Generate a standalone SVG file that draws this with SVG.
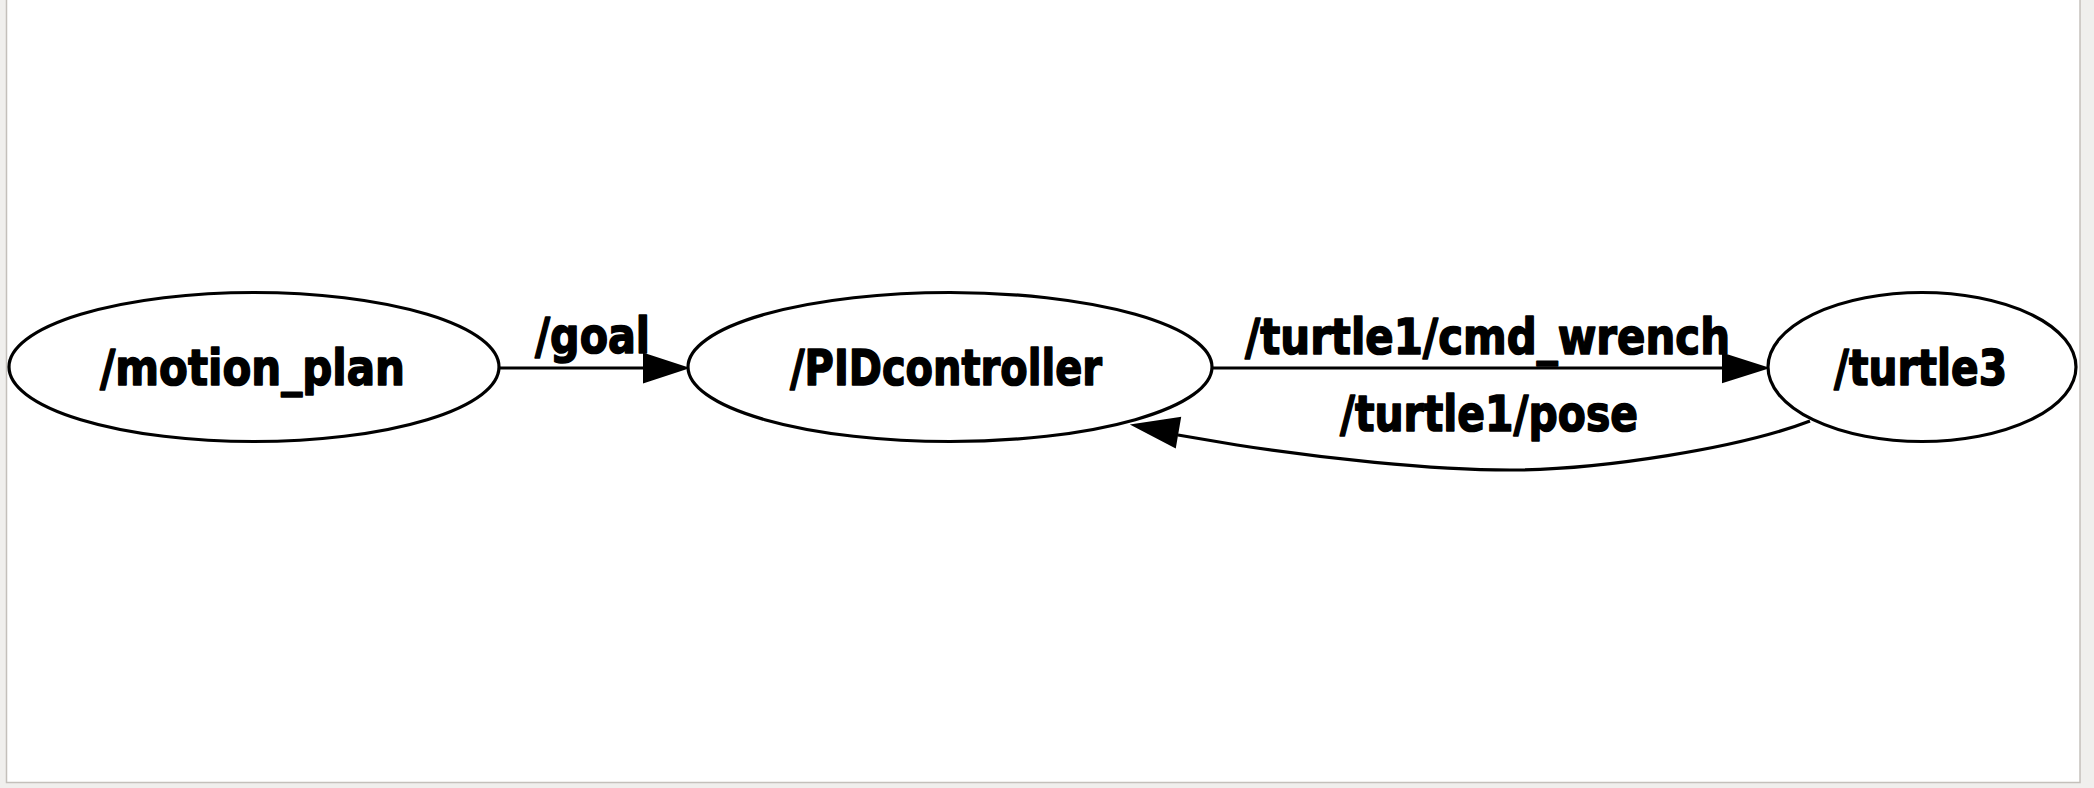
<svg xmlns="http://www.w3.org/2000/svg" width="2094" height="788" viewBox="0 0 2094 788">
<style>
.node ellipse{fill:#ffffff;stroke:#000000;stroke-width:3.2}
.lbl{font-family:"DejaVu Sans","Liberation Sans",sans-serif;font-weight:bold;font-size:49px;fill:#000000;stroke:#000000;stroke-width:1.6;stroke-linejoin:round}
.edge path,.edge line{fill:none;stroke:#000000;stroke-width:3.2}
.edge polygon{fill:#000000;stroke:#000000;stroke-width:2;stroke-linejoin:miter}
</style>
<rect x="0" y="0" width="2094" height="788" fill="#f0efed"/>
<rect x="6.5" y="-2" width="2073.5" height="784.5" fill="#ffffff" stroke="#c4c0bb" stroke-width="1.5"/>
<g id="connectors">
<g class="edge" id="edge-goal">
<line x1="498" y1="368" x2="645" y2="368"/>
<polygon points="644,354 687,368 644,382"/>
<text class="lbl" x="535" y="353" textLength="115" lengthAdjust="spacingAndGlyphs">/goal</text>
</g>
<g class="edge" id="edge-cmd">
<line x1="1212" y1="368" x2="1724" y2="368"/>
<polygon points="1723,354 1767,368 1723,382"/>
<text class="lbl" x="1245" y="354" textLength="485" lengthAdjust="spacingAndGlyphs">/turtle1/cmd_wrench</text>
</g>
<g class="edge" id="edge-pose">
<path d="M1810,421 C1740,448 1600,470 1510,470 C1430,470 1320,458 1237,445 L1178,435"/>
<polygon points="1180,418 1133,425 1175,447"/>
<text class="lbl" x="1340" y="431" textLength="298" lengthAdjust="spacingAndGlyphs">/turtle1/pose</text>
</g>
</g>
<g class="node" id="node-motion_plan">
<ellipse cx="254" cy="367" rx="245" ry="74.5"/>
<text class="lbl" x="100" y="385" textLength="305" lengthAdjust="spacingAndGlyphs">/motion_plan</text>
</g>
<g class="node" id="node-PIDcontroller">
<ellipse cx="950" cy="367" rx="262" ry="74.5"/>
<text class="lbl" x="790" y="385" textLength="312" lengthAdjust="spacingAndGlyphs">/PIDcontroller</text>
</g>
<g class="node" id="node-turtle3">
<ellipse cx="1922" cy="367" rx="154" ry="74.5"/>
<text class="lbl" x="1834" y="385" textLength="173" lengthAdjust="spacingAndGlyphs">/turtle3</text>
</g>
</svg>
